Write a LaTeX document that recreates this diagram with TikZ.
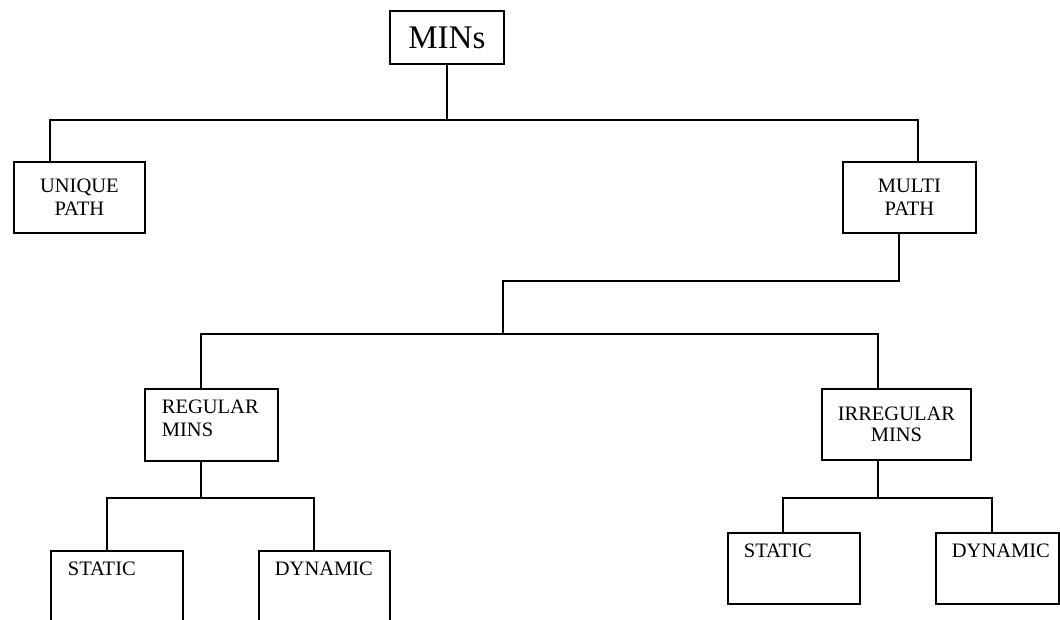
\documentclass[tikz,border=0pt]{standalone}
\usepackage{fontspec}
\setmainfont{Liberation Serif}
\usepackage{tikz}

\begin{document}
\begin{tikzpicture}[x=1pt, y=-1pt,
        box/.style={draw, line width=1.8pt, anchor=north west, inner sep=0pt,
                    font=\fontsize{20.5}{23}\selectfont},
        midbox/.style={box, align=center},
        topbox/.style={box, align=left, inner xsep=16pt, text height=25pt},
        link/.style={line width=1.8pt},
      ]
        \useasboundingbox (0,0) rectangle (1060,620);
        \clip (0,0) rectangle (1060,620);

        \node[midbox, minimum width=114pt, minimum height=53pt,
              font=\fontsize{33}{33}\selectfont] (mins) at (389,10) {MINs};
        \node[midbox, minimum width=131pt, minimum height=71pt] (unique)    at (13,161)  {UNIQUE\\PATH};
        \node[midbox, minimum width=133pt, minimum height=71pt] (multi)     at (842,161) {MULTI\\PATH};
        \node[topbox, inner xsep=17pt, text width=99pt, text depth=47pt] (regular) at (144,388) {REGULAR\\MINS};
        \node[midbox, minimum width=149pt, minimum height=71pt,
              font=\fontsize{20.5}{21}\selectfont] (irregular) at (821,388) {IRREGULAR\\MINS};
        \node[topbox, inner xsep=17pt, text width=98pt, text depth=47pt] (rstatic) at (50,550) {STATIC};
        \node[topbox, text width=99pt,  text depth=47pt] (rdynamic) at (258,550) {DYNAMIC};
        \node[topbox, text width=100pt, text depth=46pt] (istatic)  at (727,532) {STATIC};
        \node[topbox, text width=91pt,  text depth=46pt] (idynamic) at (935,532) {DYNAMIC};

        \draw[link] (mins.south) -- ++(0,55) coordinate (b0);
        \draw[link] ([xshift=37pt]unique.north west) |- (b0) -| ([xshift=76pt]multi.north west);

        \draw[link] ([xshift=57pt]multi.south west) -- ++(0,47) -| (503,334) coordinate (b1);
        \draw[link] ([xshift=57pt]regular.north west) |- (b1) -| ([xshift=57pt]irregular.north west);

        \draw[link] ([xshift=57pt]regular.south west) -- ++(0,36) coordinate (b2);
        \draw[link] ([xshift=57pt]rstatic.north west) |- (b2) -| ([xshift=56pt]rdynamic.north west);

        \draw[link] ([xshift=57pt]irregular.south west) -- ++(0,37) coordinate (b3);
        \draw[link] ([xshift=56pt]istatic.north west) |- (b3) -| ([xshift=57pt]idynamic.north west);
      \end{tikzpicture}
\end{document}
